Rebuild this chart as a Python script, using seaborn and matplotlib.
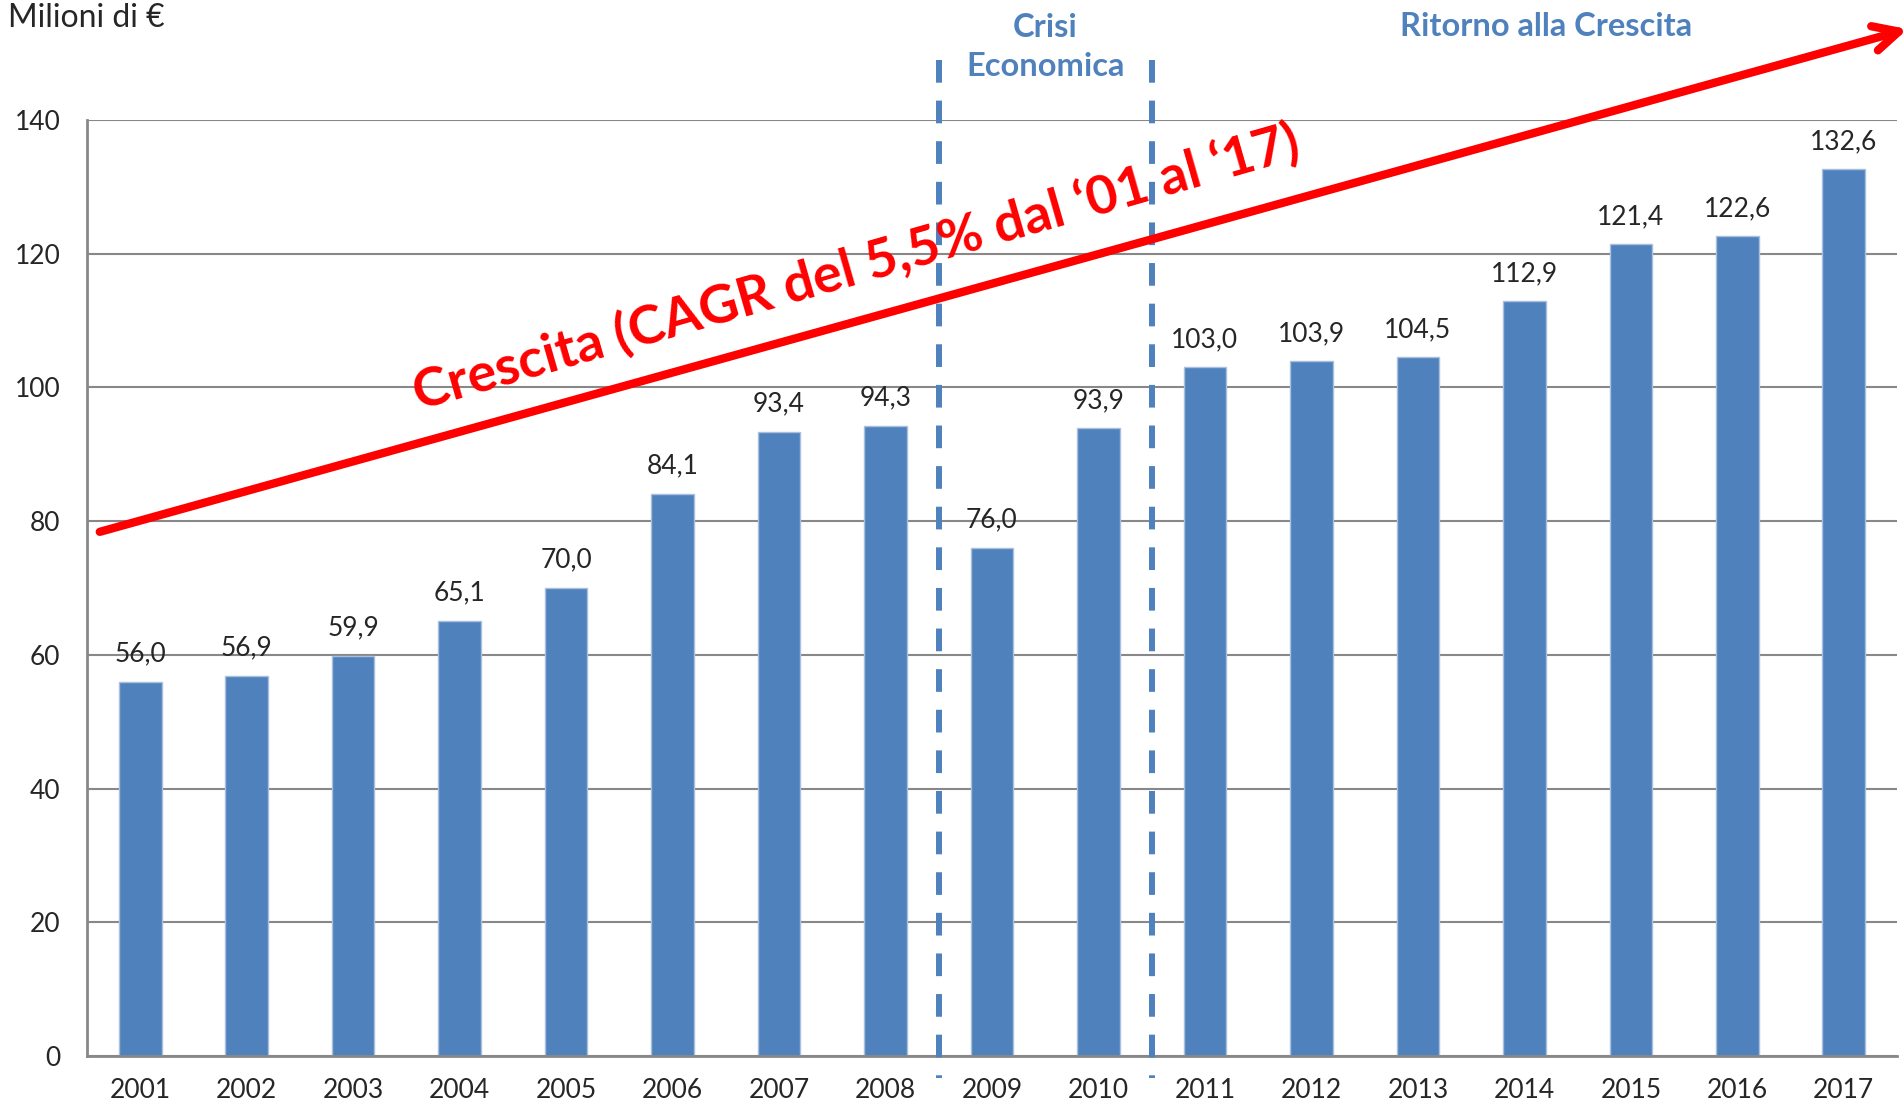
import matplotlib
matplotlib.use("Agg")
import matplotlib.pyplot as plt
import seaborn as sns
import pandas as pd

years = ['2001', '2002', '2003', '2004', '2005', '2006', '2007', '2008', '2009',
         '2010', '2011', '2012', '2013', '2014', '2015', '2016', '2017']
values = [56.0, 56.9, 59.9, 65.1, 70.0, 84.1, 93.4, 94.3, 76.0,
          93.9, 103.0, 103.9, 104.5, 112.9, 121.4, 122.6, 132.6]
y_ticks = [0, 20, 40, 60, 80, 100, 120, 140]

blue = '#4F81BD'
grey = '#888888'

sns.set_style('white')
plt.rcParams['font.family'] = ['Lato', 'DejaVu Sans']

df = pd.DataFrame({'anno': years, 'valore': values})

fig = plt.figure(figsize=(19.04, 11.06), dpi=100)
ax = fig.add_axes([87 / 1904, 1 - 1056 / 1106, 1810 / 1904, 936 / 1106])

sns.barplot(data=df, x='anno', y='valore', color=blue, width=0.4,
            saturation=1, edgecolor='#a9c0dd', linewidth=1, ax=ax)

ax.set_xlim(-0.5, len(years) - 0.5)
ax.set_ylim(0, 140)
ax.set_yticks(y_ticks)
ax.set_xlabel('')
ax.set_ylabel('')
ax.yaxis.grid(True, color=grey, lw=1.5)
ax.set_axisbelow(True)

for s in ['top', 'right']:
    ax.spines[s].set_visible(False)
for s in ['left', 'bottom']:
    ax.spines[s].set_color(grey)
    ax.spines[s].set_linewidth(2)

ax.tick_params(axis='y', length=7, width=1.5, color=grey, pad=12, labelsize=19)
ax.tick_params(axis='x', which='major', length=0, pad=16, labelsize=19)
ax.set_xticks([i - 0.5 for i in range(len(years) + 1)], minor=True)
ax.tick_params(axis='x', which='minor', length=7, width=1.5, color=grey, direction='out')

# etichette dei valori
ax.bar_label(ax.containers[0], labels=[f"{v:.1f}".replace('.', ',') for v in values],
             padding=11, fontsize=19)

# linee tratteggiate crisi
for xv in [7.5, 9.5]:
    ax.plot([xv, xv], [148.9, -3.3], color=blue, lw=4.3, ls=(0, (3.8, 3)),
            clip_on=False, zorder=4)

ax.text(8.5, 150.9, 'Crisi\nEconomica', ha='center', va='center', color=blue,
        fontsize=23.5, fontweight='bold', linespacing=1.42)
ax.text(13.2, 154.0, 'Ritorno alla Crescita', ha='center', va='center', color=blue,
        fontsize=23.5, fontweight='bold')

# freccia di crescita
ax.annotate('', xy=(16.6, 153.6), xytext=(-0.38, 78.4),
            arrowprops=dict(arrowstyle='->,head_length=1.8,head_width=0.9',
                            color='red', lw=6, capstyle='round', shrinkA=0, shrinkB=0),
            annotation_clip=False, zorder=6)
ax.text(6.72, 118.0, 'Crescita (CAGR del 5,5% dal \u201801 al \u201817)', color='red',
        fontsize=39, fontweight='bold', rotation=16, rotation_mode='anchor',
        ha='center', va='center', zorder=7)

fig.text(8 / 1904, 1 - 18 / 1106, 'Milioni di \u20ac', ha='left', va='center', fontsize=23)

fig.savefig('out.png', dpi=100)
